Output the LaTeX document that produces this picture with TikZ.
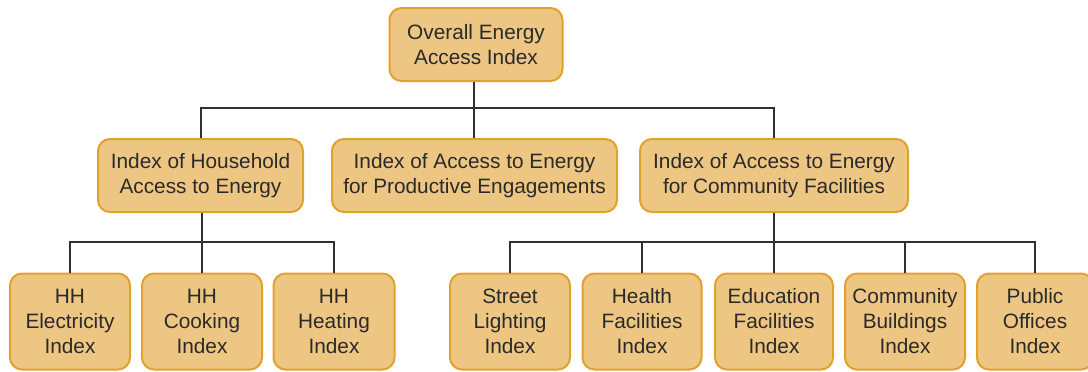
\documentclass[tikz,border=0pt]{standalone}
\usepackage{fontspec}
\setmainfont{Liberation Sans}
\definecolor{boxfill}{HTML}{EEC683}
\definecolor{boxedge}{HTML}{E2A02C}
\definecolor{txt}{HTML}{2A2A2A}
\definecolor{wire}{HTML}{303030}
\begin{document}
\begin{tikzpicture}[x=1pt,y=-1pt,
  idx/.style={draw=boxedge,fill=boxfill,line width=2pt,rounded corners=12pt,
    inner sep=0pt,align=center,text=txt,
    font=\fontsize{20.8}{25}\selectfont},
  lvl1/.style={idx,minimum height=73pt},
  lvl3/.style={idx,minimum height=96pt},
  wires/.style={draw=wire,line width=2pt}]
\useasboundingbox (0,0) rectangle (1088,372);
\clip (0,0) rectangle (1088,372);
% nodes
\node[lvl1,minimum width=173pt] (top) at (476,44.5) {Overall Energy\\Access Index};
\node[lvl1,minimum width=205pt] (hh) at (200.5,175.5) {Index of Household\\Access to Energy};
\node[lvl1,minimum width=285pt] (prod) at (474.5,175.5) {Index of Access to Energy\\for Productive Engagements};
\node[lvl1,minimum width=268pt] (com) at (774,175.5) {Index of Access to Energy\\for Community Facilities};
\node[lvl3,minimum width=120pt] (elec) at (70,321.5) {HH\\Electricity\\Index};
\node[lvl3,minimum width=120pt] (cook) at (202,321.5) {HH\\Cooking\\Index};
\node[lvl3,minimum width=121pt] (heat) at (334,321.5) {HH\\Heating\\Index};
\node[lvl3,minimum width=120pt] (street) at (510,321.5) {Street\\Lighting\\Index};
\node[lvl3,minimum width=119pt] (health) at (642,321.5) {Health\\Facilities\\Index};
\node[lvl3,minimum width=118pt] (edu) at (774,321.5) {Education\\Facilities\\Index};
\node[lvl3,minimum width=120pt] (cbld) at (905,321.5) {Community\\Buildings\\Index};
\node[lvl3,minimum width=116pt] (pub) at (1035,321.5) {Public\\Offices\\Index};
% bus coordinates
\coordinate (b1) at (474,108);
\coordinate (b2) at (202,242);
\coordinate (b3) at (774,242);
% connectors
\draw[wires] (top.south -| b1) -- (prod.north -| b1);
\draw[wires] (hh.north) |- (b1) -| (com.north);
\draw[wires] (hh.south -| b2) -- (cook.north -| b2);
\draw[wires] (elec.north) |- (b2) -| (heat.north);
\draw[wires] (com.south) -- (edu.north);
\draw[wires] (street.north) |- (b3) -| (pub.north);
\draw[wires] (health.north) -- (health.north |- b3);
\draw[wires] (cbld.north) -- (cbld.north |- b3);
\end{tikzpicture}
\end{document}
